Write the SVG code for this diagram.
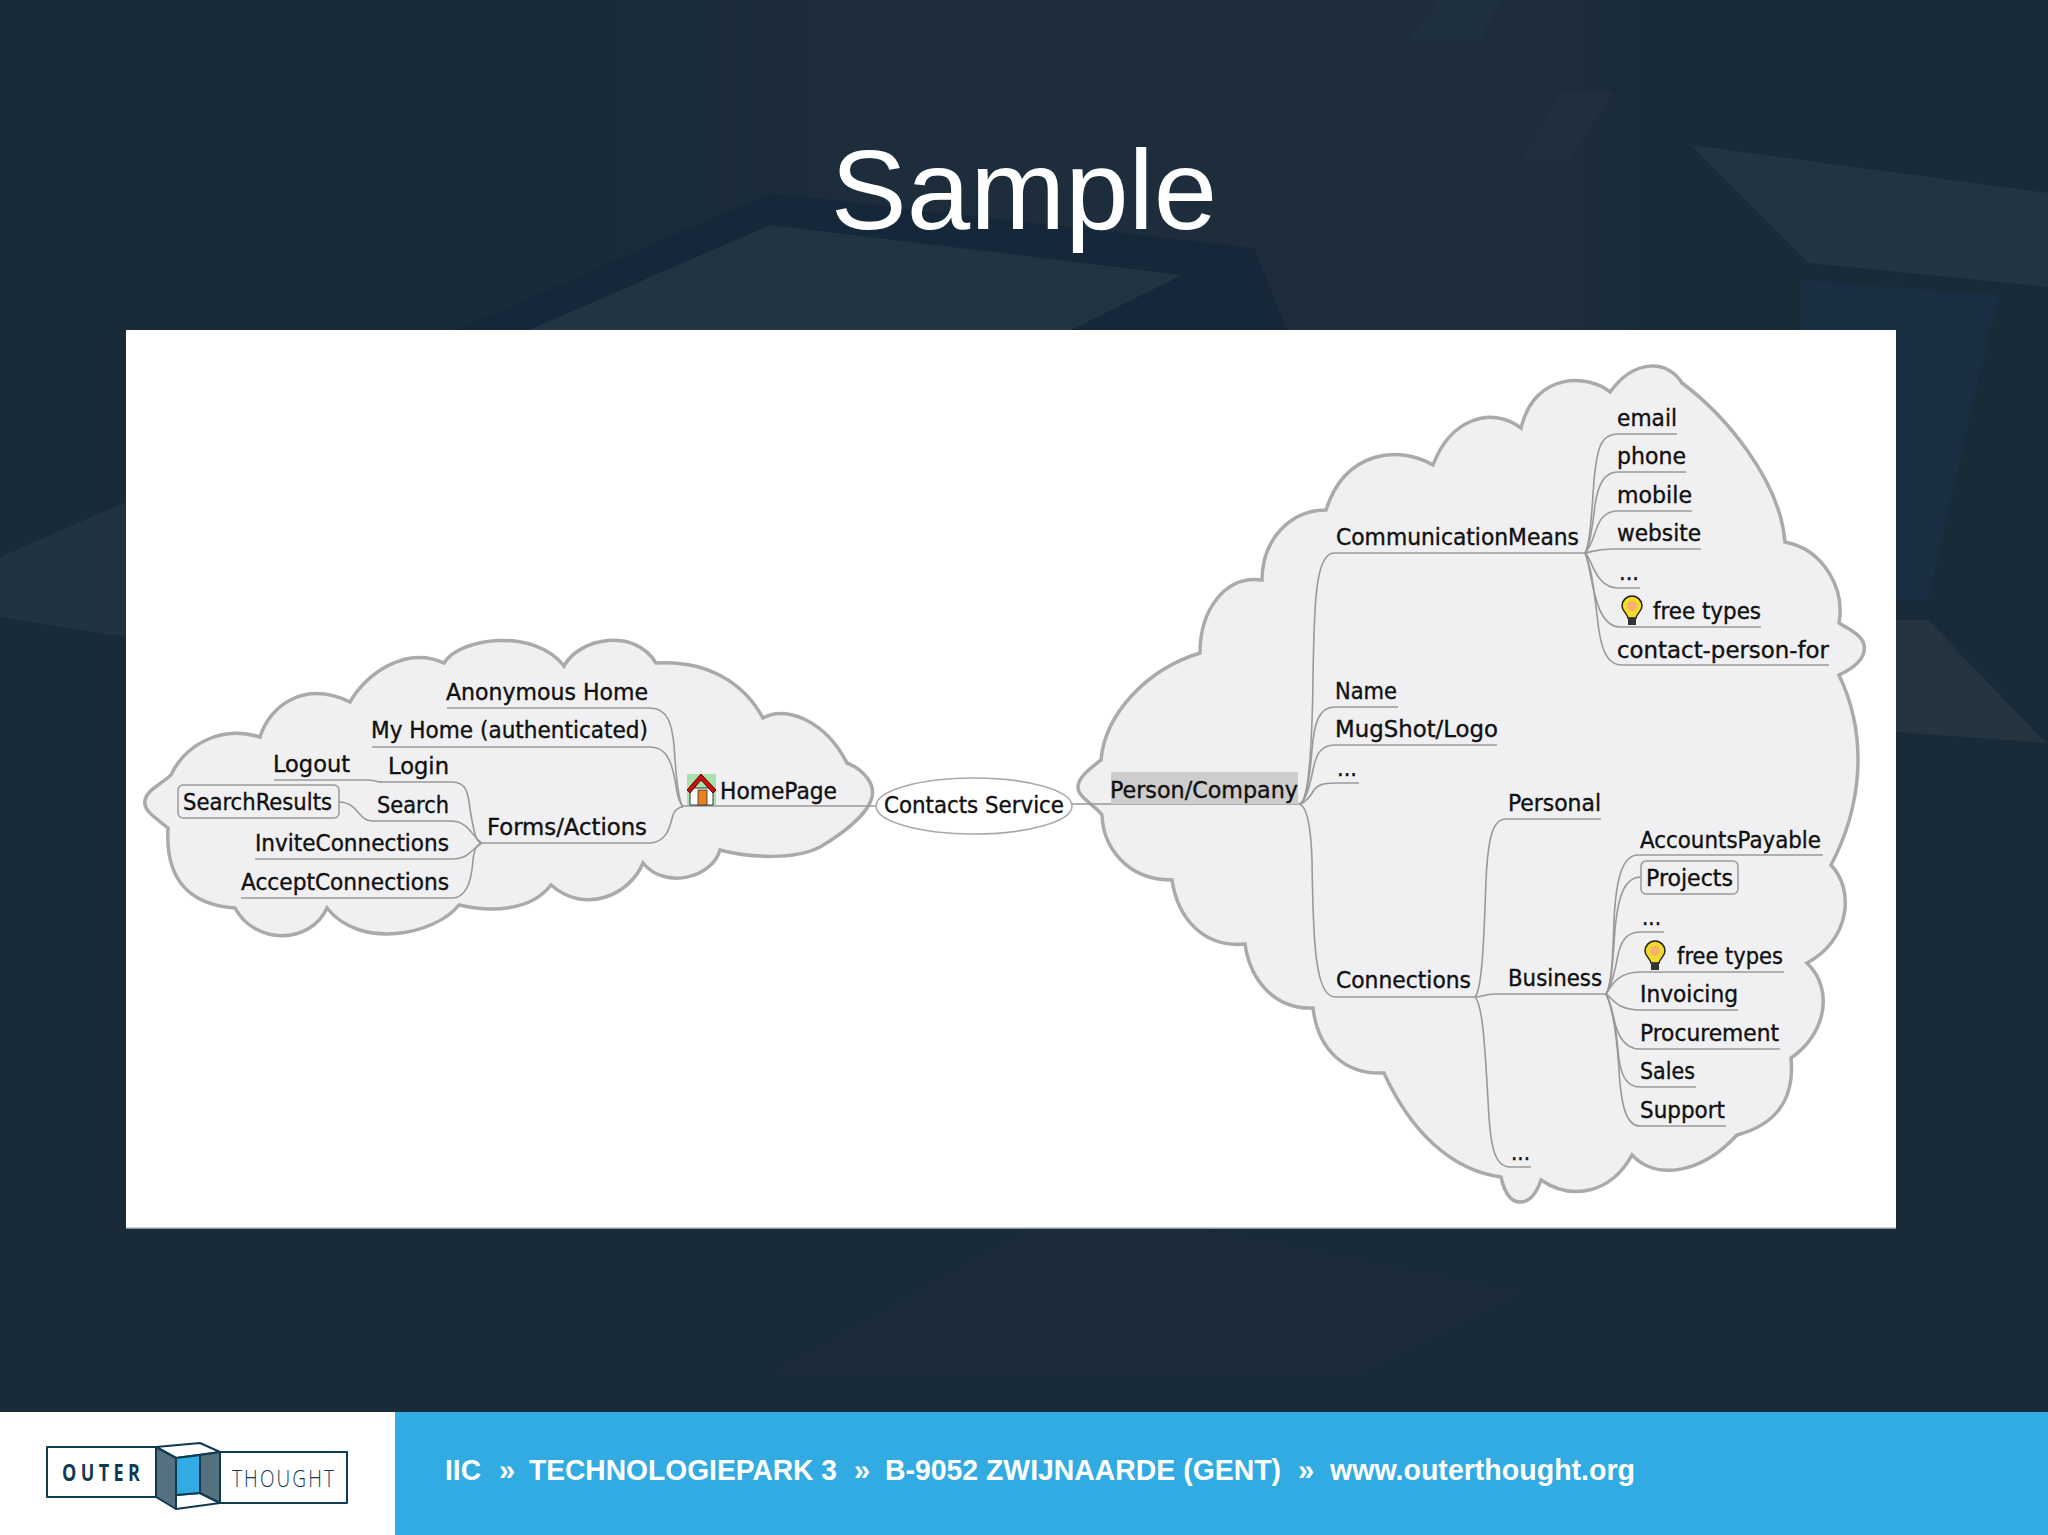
<svg xmlns="http://www.w3.org/2000/svg" width="2048" height="1535" viewBox="0 0 2048 1535">
<style>
.t{font-family:"DejaVu Sans Condensed","DejaVu Sans",sans-serif;font-size:23px;fill:#111;stroke:#111;stroke-width:.35}
.c{fill:none;stroke:#999;stroke-width:1.6}
.cloud{fill:#f0f0f2;stroke:#aaa;stroke-width:3.5}
.box{fill:none;stroke:#999;stroke-width:1.5}
.f{font-family:"Liberation Sans",Arial,sans-serif;font-size:29px;font-weight:700;fill:#fff}
.lg{stroke:#0f3a52;stroke-width:2;stroke-linejoin:round}
</style>
<defs>
<linearGradient id="band" x1="0" y1="0" x2="2048" y2="0" gradientUnits="userSpaceOnUse">
<stop offset=".3" stop-color="#192a39"/><stop offset=".44" stop-color="#1d2d3c"/><stop offset=".76" stop-color="#1d2d3c"/><stop offset=".8" stop-color="#192a39"/>
</linearGradient>
<g id="bulb">
<path d="M11 1C5 1 1 6 1 11C1 16 6 18 7 23H15C16 18 21 16 21 11C21 6 17 1 11 1Z" fill="#f2dc28" stroke="#222" stroke-width="1.5"/>
<circle cx="11" cy="11" r="5" fill="#f7b070"/>
<rect x="7" y="23" width="8" height="7" fill="#333"/>
</g>
</defs>
<rect id="background" width="2048" height="1535" fill="#192a39"/>
<g id="bg-shapes">
<rect width="2048" height="330" fill="url(#band)"/>
<polygon points="770,193 1254,248 1287,330 457,330" fill="#16273a"/>
<polygon points="770,225 1182,275 1071,330 529,330" fill="#223341"/>
<polygon points="1691,145 2048,193 2048,287 1809,263" fill="#223341"/>
<polygon points="1800,280 2000,295 1990,330 1800,330" fill="#1a2e42"/>
<polygon points="1410,40 1440,0 1500,0 1480,40" fill="#1f303e"/>
<polygon points="1522,160 1560,93 1613,93 1570,160" fill="#1f2f3d"/>
<polygon points="0,557 126,502 126,637 0,617" fill="#213241"/>
<polygon points="1896,330 1990,330 1928,600 1896,600" fill="#1a2e42"/>
<polygon points="1896,620 1928,620 2046,743 1896,732" fill="#243440"/>
<polygon points="1032,1228 1189,1228 1522,1293 1358,1375 771,1375 973,1263" fill="#1b2b3a"/>
</g>
<text id="title" x="1024" y="229" text-anchor="middle" font-family="'Liberation Sans',Arial,sans-serif" font-size="114" fill="#fff">Sample</text>
<g id="panel"><rect x="126" y="330" width="1770" height="898" fill="#fff"/><path d="M126 1228H1896" stroke="#bbb" stroke-width="1.5"/></g>
<g id="clouds">
<path class="cloud" d="M168 828C152 815 143 810 145 800C147 790 160 785 171 775C185 745 220 725 260 737C270 705 305 680 350 702C365 675 405 645 444 663C460 637 535 628 564 666C580 637 635 628 656 663C710 660 745 685 763 718C785 705 825 720 847 763C865 770 875 785 872 797C868 815 840 835 820 847C795 860 750 858 720 850C712 878 665 890 643 863C630 895 585 915 551 885C530 912 490 912 459 905C435 935 360 950 327 908C310 945 255 945 235 908C190 905 165 880 168 828Z"/>
<path class="cloud" d="M1101 760C1088 770 1078 778 1078 787C1078 798 1095 805 1102 815C1103 845 1125 880 1172 880C1178 920 1205 948 1245 944C1250 980 1275 1010 1313 1008C1318 1050 1345 1075 1384 1073C1410 1130 1450 1170 1501 1177C1505 1195 1512 1202 1520 1202C1530 1202 1537 1192 1541 1180C1570 1200 1610 1195 1632 1155C1655 1180 1700 1175 1737 1135C1775 1125 1795 1100 1791 1058C1825 1035 1835 990 1807 963C1850 940 1855 890 1831 865C1860 810 1870 740 1839 675C1860 665 1866 655 1864 645C1862 635 1850 630 1839 623C1845 590 1825 550 1785 542C1780 480 1725 415 1682 383C1668 360 1635 358 1610 392C1590 375 1535 370 1521 428C1490 405 1450 420 1433 465C1400 445 1345 450 1326 510C1290 510 1262 540 1262 580C1225 575 1200 610 1200 653C1145 670 1105 715 1101 760Z"/>
</g>
<g id="connectors">
<path class="c" d="M877 806H683"/>
<path class="c" d="M447 708H650C668 708 672 725 674 745C676 775 678 800 683 807"/>
<path class="c" d="M372 747H650C668 747 672 765 675 780C677 795 680 804 683 807"/>
<path class="c" d="M482 843H650C668 842 670 825 673 815C675 810 678 807 683 807"/>
<path class="c" d="M380 782H452C470 782 468 800 471 815C474 832 476 843 482 843"/>
<path class="c" d="M274 780H368C374 780 376 782 382 782"/>
<path class="c" d="M378 821H450C470 821 472 838 482 843"/>
<path class="c" d="M339 802C358 802 358 821 372 821H378"/>
<path class="c" d="M255 859H452C470 859 472 848 482 843"/>
<path class="c" d="M241 898H452C468 898 472 875 473 860C474 850 476 845 482 843"/>
<path class="c" d="M1072 804H1300"/>
<path class="c" d="M1300 804C1308 800 1312 750 1313 680C1314 600 1316 553 1334 553H1585"/>
<path class="c" d="M1300 804C1307 800 1310 775 1312 750C1314 725 1318 707 1335 707H1398"/>
<path class="c" d="M1300 804C1307 800 1311 780 1313 770C1316 755 1320 745 1335 745H1497"/>
<path class="c" d="M1300 804C1307 802 1311 795 1314 790C1318 785 1322 783 1335 783H1359"/>
<path class="c" d="M1300 804C1308 808 1311 830 1312 860C1313 940 1315 997 1335 997H1475"/>
<path class="c" d="M1475 997C1482 990 1484 940 1486 880C1488 840 1492 819 1506 819H1601"/>
<path class="c" d="M1475 997C1482 997 1485 994 1495 994H1606"/>
<path class="c" d="M1475 997C1483 1005 1485 1050 1488 1100C1490 1145 1494 1167 1510 1167H1531"/>
<path class="c" d="M1585 553C1590 545 1592 510 1594 480C1597 450 1600 434 1618 434H1677"/>
<path class="c" d="M1585 553C1591 545 1593 520 1595 505C1598 485 1604 472 1618 472H1686"/>
<path class="c" d="M1585 553C1592 545 1594 535 1596 530C1600 518 1606 511 1618 511H1692"/>
<path class="c" d="M1585 553C1592 552 1596 549 1612 549H1701"/>
<path class="c" d="M1585 553C1592 558 1595 588 1618 588H1640"/>
<path class="c" d="M1585 553C1592 565 1592 627 1620 627H1761"/>
<path class="c" d="M1585 553C1592 570 1594 590 1597 615C1600 645 1605 665 1622 665H1829"/>
<path class="c" d="M1606 994C1612 985 1613 950 1614 920C1616 880 1622 855 1638 855H1823"/>
<path class="c" d="M1606 994C1612 985 1613 955 1615 930C1618 895 1625 877 1641 877"/>
<path class="c" d="M1606 994C1612 985 1615 970 1617 960C1620 942 1626 932 1640 932H1664"/>
<path class="c" d="M1606 994C1612 985 1618 972 1640 972H1784"/>
<path class="c" d="M1606 994C1614 1000 1618 1010 1640 1010H1738"/>
<path class="c" d="M1606 994C1614 1005 1612 1049 1640 1049H1780"/>
<path class="c" d="M1606 994C1614 1010 1616 1030 1618 1050C1620 1075 1626 1087 1640 1087H1696"/>
<path class="c" d="M1606 994C1614 1010 1617 1040 1619 1070C1621 1105 1626 1126 1640 1126H1726"/>
</g>
<g id="n-contacts"><ellipse cx="974" cy="806" rx="98" ry="28" fill="#fff" stroke="#aaa" stroke-width="1.6"/><text class="t" x="884" y="813" textLength="180" lengthAdjust="spacingAndGlyphs">Contacts Service</text></g>
<g id="n-homepage">
<rect x="687" y="774" width="29" height="31" fill="#a8e0ae"/>
<path d="M690 805V788H713V805Z" fill="#fff" stroke="#333" stroke-width="1"/>
<path d="M687 790L701 774L716 790L713 793L701 780L690 793Z" fill="#c41010" stroke="#600" stroke-width="1"/>
<rect x="698" y="790" width="9" height="15" fill="#e8821e" stroke="#333" stroke-width=".8"/>
<text class="t" x="720" y="799" textLength="117" lengthAdjust="spacingAndGlyphs">HomePage</text></g>
<g id="n-anon"><text class="t" x="446" y="700" textLength="202" lengthAdjust="spacingAndGlyphs">Anonymous Home</text></g>
<g id="n-myhome"><text class="t" x="371" y="738" textLength="277" lengthAdjust="spacingAndGlyphs">My Home (authenticated)</text></g>
<g id="n-forms"><text class="t" x="487" y="835" textLength="160" lengthAdjust="spacingAndGlyphs">Forms/Actions</text></g>
<g id="n-login"><text class="t" x="388" y="774" textLength="61" lengthAdjust="spacingAndGlyphs">Login</text></g>
<g id="n-logout"><text class="t" x="273" y="772" textLength="77" lengthAdjust="spacingAndGlyphs">Logout</text></g>
<g id="n-search"><text class="t" x="377" y="813" textLength="72" lengthAdjust="spacingAndGlyphs">Search</text></g>
<g id="n-searchresults"><rect class="box" x="178" y="785" width="161" height="33" rx="5"/><text class="t" x="183" y="810" textLength="149" lengthAdjust="spacingAndGlyphs">SearchResults</text></g>
<g id="n-invite"><text class="t" x="255" y="851" textLength="194" lengthAdjust="spacingAndGlyphs">InviteConnections</text></g>
<g id="n-accept"><text class="t" x="241" y="890" textLength="208" lengthAdjust="spacingAndGlyphs">AcceptConnections</text></g>
<g id="n-person"><rect x="1111" y="772" width="187" height="32" fill="#cdcdcd"/><text class="t" x="1110" y="798" textLength="188" lengthAdjust="spacingAndGlyphs">Person/Company</text></g>
<g id="n-comm"><text class="t" x="1336" y="545" textLength="243" lengthAdjust="spacingAndGlyphs">CommunicationMeans</text></g>
<g id="n-email"><text class="t" x="1617" y="426" textLength="60" lengthAdjust="spacingAndGlyphs">email</text></g>
<g id="n-phone"><text class="t" x="1617" y="464" textLength="69" lengthAdjust="spacingAndGlyphs">phone</text></g>
<g id="n-mobile"><text class="t" x="1617" y="503" textLength="75" lengthAdjust="spacingAndGlyphs">mobile</text></g>
<g id="n-website"><text class="t" x="1617" y="541" textLength="84" lengthAdjust="spacingAndGlyphs">website</text></g>
<g id="n-dots1"><text class="t" x="1619" y="580" textLength="20" lengthAdjust="spacingAndGlyphs">...</text></g>
<g id="n-free1"><use href="#bulb" x="1621" y="595"/><text class="t" x="1653" y="619" textLength="108" lengthAdjust="spacingAndGlyphs">free types</text></g>
<g id="n-contactfor"><text class="t" x="1617" y="658" textLength="212" lengthAdjust="spacingAndGlyphs">contact-person-for</text></g>
<g id="n-name"><text class="t" x="1335" y="699" textLength="62" lengthAdjust="spacingAndGlyphs">Name</text></g>
<g id="n-mugshot"><text class="t" x="1335" y="737" textLength="163" lengthAdjust="spacingAndGlyphs">MugShot/Logo</text></g>
<g id="n-dots2"><text class="t" x="1337" y="776" textLength="20" lengthAdjust="spacingAndGlyphs">...</text></g>
<g id="n-connections"><text class="t" x="1336" y="988" textLength="135" lengthAdjust="spacingAndGlyphs">Connections</text></g>
<g id="n-personal"><text class="t" x="1508" y="811" textLength="93" lengthAdjust="spacingAndGlyphs">Personal</text></g>
<g id="n-business"><text class="t" x="1508" y="986" textLength="94" lengthAdjust="spacingAndGlyphs">Business</text></g>
<g id="n-dots3"><text class="t" x="1511" y="1160" textLength="19" lengthAdjust="spacingAndGlyphs">...</text></g>
<g id="n-accounts"><text class="t" x="1640" y="848" textLength="181" lengthAdjust="spacingAndGlyphs">AccountsPayable</text></g>
<g id="n-projects"><rect class="box" x="1641" y="861" width="97" height="33" rx="5"/><text class="t" x="1646" y="886" textLength="87" lengthAdjust="spacingAndGlyphs">Projects</text></g>
<g id="n-dots4"><text class="t" x="1642" y="925" textLength="19" lengthAdjust="spacingAndGlyphs">...</text></g>
<g id="n-free2"><use href="#bulb" x="1644" y="940"/><text class="t" x="1677" y="964" textLength="106" lengthAdjust="spacingAndGlyphs">free types</text></g>
<g id="n-invoicing"><text class="t" x="1640" y="1002" textLength="98" lengthAdjust="spacingAndGlyphs">Invoicing</text></g>
<g id="n-procurement"><text class="t" x="1640" y="1041" textLength="139" lengthAdjust="spacingAndGlyphs">Procurement</text></g>
<g id="n-sales"><text class="t" x="1640" y="1079" textLength="55" lengthAdjust="spacingAndGlyphs">Sales</text></g>
<g id="n-support"><text class="t" x="1640" y="1118" textLength="85" lengthAdjust="spacingAndGlyphs">Support</text></g>
<g id="footer">
<rect x="0" y="1412" width="395" height="123" fill="#fff"/>
<rect x="395" y="1412" width="1653" height="123" fill="#31abe2"/>
<rect class="lg" x="47" y="1447" width="109" height="50" fill="#fff"/>
<rect class="lg" x="220" y="1452" width="127" height="51" fill="#fff"/>
<polygon class="lg" points="156,1447 200,1443 220,1452 176,1458" fill="#fff"/>
<polygon class="lg" points="176,1495 200,1493 220,1503 176,1509" fill="#fff"/>
<polygon class="lg" points="156,1447 176,1458 176,1509 156,1497" fill="#55707f"/>
<polygon class="lg" points="200,1455 220,1452 220,1503 200,1493" fill="#55707f"/>
<polygon class="lg" points="176,1458 200,1455 200,1493 176,1495" fill="#31abe2"/>
<text transform="translate(62 1481) scale(1 1.25)" font-family="'Open Sans','DejaVu Sans',sans-serif" font-weight="700" font-size="18" fill="#0f3a52" textLength="78" lengthAdjust="spacing">OUTER</text>
<text transform="translate(232 1487) scale(1 1.3)" font-family="'Open Sans','DejaVu Sans',sans-serif" font-weight="300" font-size="19" fill="#0f3a52" textLength="102" lengthAdjust="spacing">THOUGHT</text>
<text class="f" x="445" y="1480" textLength="36" lengthAdjust="spacingAndGlyphs">IIC</text>
<text class="f" x="499" y="1480">»</text>
<text class="f" x="529" y="1480" textLength="308" lengthAdjust="spacingAndGlyphs">TECHNOLOGIEPARK 3</text>
<text class="f" x="854" y="1480">»</text>
<text class="f" x="885" y="1480" textLength="396" lengthAdjust="spacingAndGlyphs">B-9052 ZWIJNAARDE (GENT)</text>
<text class="f" x="1298" y="1480">»</text>
<text class="f" x="1330" y="1480" textLength="305" lengthAdjust="spacingAndGlyphs">www.outerthought.org</text>
</g>
</svg>
